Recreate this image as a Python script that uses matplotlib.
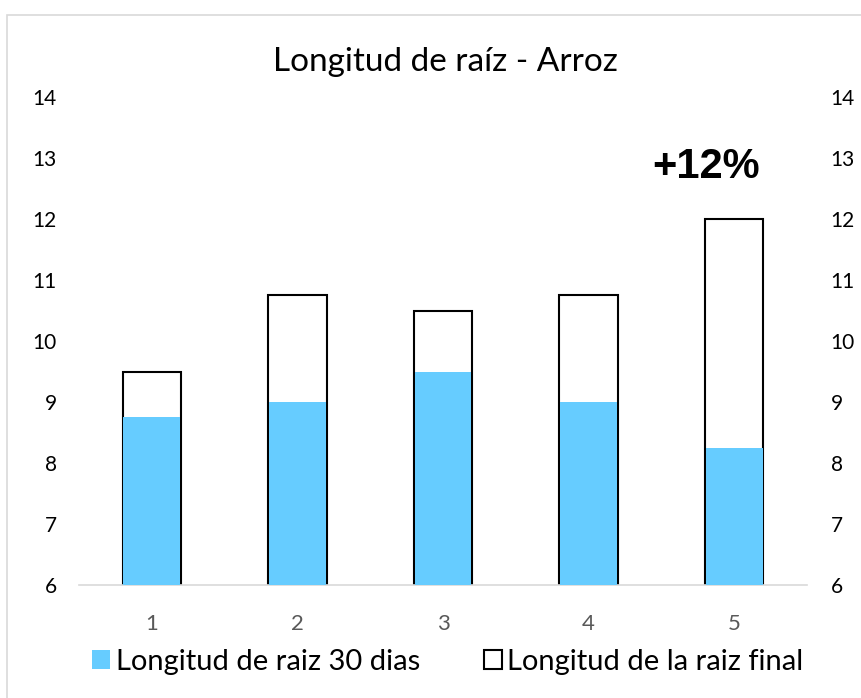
import numpy as np
import matplotlib.pyplot as plt
from matplotlib.patches import Rectangle

plt.rcParams['font.family'] = ['Lato', 'DejaVu Sans']

categorias = ['1', '2', '3', '4', '5']
raiz_final = [9.5, 10.75, 10.5, 10.75, 12.0]
raiz_30_dias = [8.75, 9.0, 9.5, 9.0, 8.25]
y_ticks = [6, 7, 8, 9, 10, 11, 12, 13, 14]

azul = '#66CCFF'
gris = '#595959'

fig = plt.figure(figsize=(8.62, 6.98), dpi=100)
# marco del grafico
fig.patches.append(Rectangle((7 / 862, -0.1), 1.0, 1 - 15 / 698 + 0.1,
                             transform=fig.transFigure, fill=False,
                             edgecolor='#d9d9d9', linewidth=1.2))

ax = fig.add_axes([79 / 862, 1 - 585 / 698, (807 - 79) / 862, (585 - 97) / 698])
x = np.arange(len(categorias))
ancho = 0.4

ax.bar(x, raiz_final, ancho, bottom=0, color='white', edgecolor='black',
       linewidth=1.5, label='Longitud de la raiz final', zorder=2)
ax.bar(x, raiz_30_dias, ancho - 0.01, color=azul, edgecolor='none',
       label='Longitud de raiz 30 dias', zorder=3)

ax.set_ylim(6, 14)
ax.set_xlim(-0.5, len(categorias) - 0.5)
ax.set_yticks(y_ticks)
ax.set_xticks(x)
ax.set_xticklabels(categorias, fontsize=16, color=gris)
ax.tick_params(axis='x', length=0, pad=21)
ax.tick_params(axis='y', length=0, labelsize=15, pad=16)

for s in ['top', 'left', 'right']:
    ax.spines[s].set_visible(False)
ax.spines['bottom'].set_color('#d9d9d9')
ax.spines['bottom'].set_linewidth(1.2)

ax2 = ax.twinx()
ax2.set_ylim(6, 14)
ax2.set_yticks(y_ticks)
ax2.tick_params(axis='y', length=0, labelsize=15, pad=17)
for s in ['top', 'left', 'right', 'bottom']:
    ax2.spines[s].set_visible(False)

fig.text(445 / 862, 1 - 62 / 698, 'Longitud de raíz - Arroz', fontsize=24,
         ha='center', va='center')

ax.text(x[4] - 0.19, 12.85, '+12%', fontsize=30, fontweight='bold',
        family='Liberation Sans', ha='center', va='center')

h, l = ax.get_legend_handles_labels()
fig.legend(h[::-1], l[::-1], loc='center', bbox_to_anchor=(448 / 862, 1 - 662 / 698),
           ncol=2, frameon=False, fontsize=21, handlelength=0.6,
           handleheight=0.6, handletextpad=0.2, columnspacing=2.2)

fig.savefig('out.png', dpi=100)
